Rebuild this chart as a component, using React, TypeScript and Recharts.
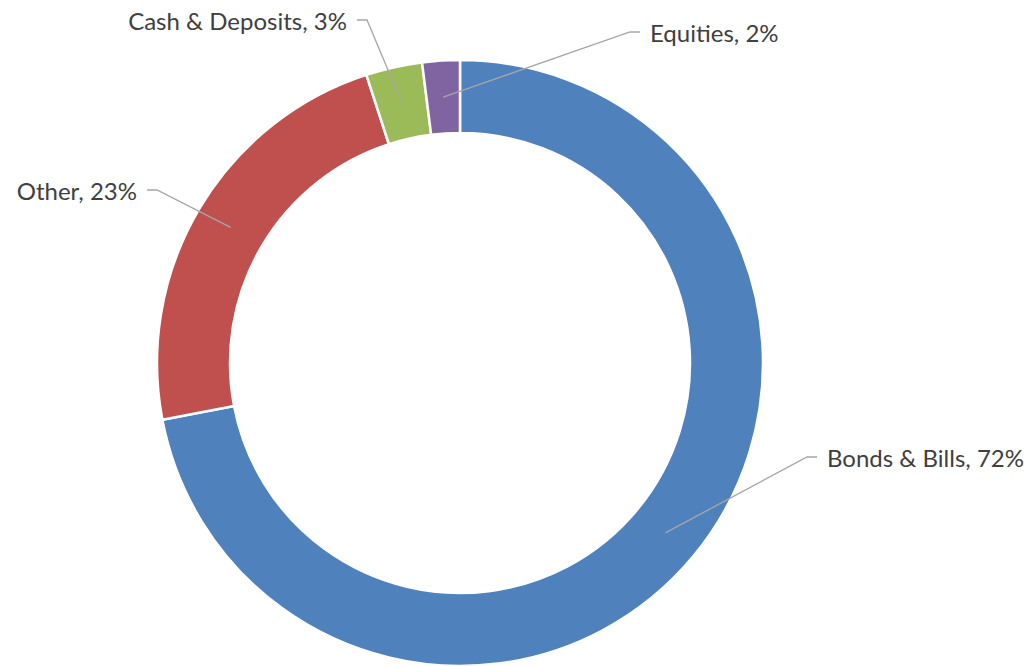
import { PieChart, Pie, Cell } from 'recharts';

const categories = ['Bonds & Bills', 'Other', 'Cash & Deposits', 'Equities'];
const shares = [72, 23, 3, 2];
const colors = ['#4F81BD', '#C0504D', '#9BBB59', '#8064A2'];

// elbow of each leader line and which side the text sits on (chart pixels)
const labelLayout = [
  { ex: 807, ey: 457, side: 1 },
  { ex: 157, ey: 190, side: -1 },
  { ex: 367, ey: 20, side: -1 },
  { ex: 630, ey: 32, side: 1 },
];

const data = categories.map((name, i) => ({ name, value: shares[i] }));

const RADIAN = Math.PI / 180;

function renderLabel(props: any) {
  const { cx, cy, midAngle, innerRadius, outerRadius, index } = props;
  const r = (innerRadius + outerRadius) / 2;
  const ax = cx + r * Math.cos(-midAngle * RADIAN);
  const ay = cy + r * Math.sin(-midAngle * RADIAN);
  const l = labelLayout[index];
  const endX = l.ex + l.side * 10;
  const textX = endX + l.side * 10;
  return (
    <g key={`lbl-${index}`}>
      <polyline
        points={`${ax},${ay} ${l.ex},${l.ey} ${endX},${l.ey}`}
        fill="none"
        stroke="#A6A6A6"
        strokeWidth={1.3}
      />
      <text
        x={textX}
        y={l.ey}
        textAnchor={l.side > 0 ? 'start' : 'end'}
        dominantBaseline="central"
        fill="#404040"
        fontSize={24}
        fontFamily="Lato, sans-serif"
      >
        {`${categories[index]}, ${shares[index]}%`}
      </text>
    </g>
  );
}

export default function App() {
  return (
    <div style={{ position: 'absolute', left: 0, top: 0, width: 1029, height: 666, background: '#fff' }}>
      <PieChart width={1029} height={666} margin={{ top: 0, right: 0, bottom: 0, left: 0 }}>
        <Pie
          data={data}
          dataKey="value"
          nameKey="name"
          cx={460}
          cy={363}
          innerRadius={230}
          outerRadius={303}
          startAngle={90}
          endAngle={-270}
          stroke="#FFFFFF"
          strokeWidth={2.5}
          label={renderLabel}
          labelLine={false}
          isAnimationActive={false}
        >
          {data.map((d, i) => (
            <Cell key={d.name} fill={colors[i]} />
          ))}
        </Pie>
      </PieChart>
    </div>
  );
}
